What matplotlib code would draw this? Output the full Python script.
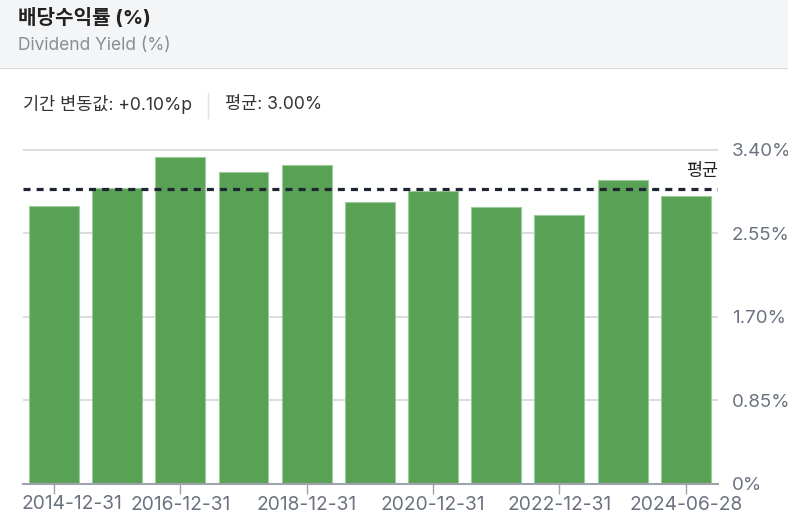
import matplotlib
matplotlib.use("Agg")
import matplotlib.pyplot as plt
from matplotlib.lines import Line2D

plt.rcParams['font.family'] = ['Inter', 'Noto Sans CJK KR', 'DejaVu Sans']

# data
dates = ["2014-12-31", "2015-12-31", "2016-12-31", "2017-12-31", "2018-12-31",
         "2019-12-31", "2020-12-31", "2021-12-31", "2022-12-31", "2023-12-31",
         "2024-06-28"]
yields = [2.83, 3.01, 3.33, 3.18, 3.25, 2.87, 2.98, 2.82, 2.74, 3.09, 2.93]
avg_yield = 3.00
yticks = [0, 0.85, 1.70, 2.55, 3.40]
ytick_labels = ["0%", "0.85%", "1.70%", "2.55%", "3.40%"]
title = "배당수익률 (%)"
subtitle = "Dividend Yield (%)"
change_text = "기간 변동값: +0.10%p"
avg_text = "평균: 3.00%"

W, H = 788, 522
fig = plt.figure(figsize=(W/100, H/100), dpi=100)
fig.patch.set_facecolor("white")

def px(x, y):
    return x/W, 1 - y/H

# header band
fig.patches.append(plt.Rectangle((0, 1 - 67/H), 1, 67/H, transform=fig.transFigure,
                                 facecolor="#f4f5f7", edgecolor="none", zorder=0))
fig.lines.append(Line2D([0, 1], [1 - 67.5/H]*2, transform=fig.transFigure,
                        color="#dcdde1", lw=1))
fig.text(*px(18, 18), title, fontsize=14.5, fontweight="bold", color="#222222", va="center")
fig.text(*px(18, 46), subtitle, fontsize=12.5, color="#8a8d93", va="center")

# stats line
fig.text(*px(23, 105), change_text, fontsize=12.6, color="#333333", va="center")
fig.lines.append(Line2D([208/W]*2, [1 - 93/H, 1 - 118/H], transform=fig.transFigure,
                        color="#e0e0e0", lw=1))
fig.text(*px(225, 105), avg_text, fontsize=12.6, color="#333333", va="center")

# axes
ax_top = 145
ax_bot = 484
ax = fig.add_axes([23/W, 1 - ax_bot/H, (718-23)/W, (ax_bot-ax_top)/H])
ax.set_facecolor("none")
x = list(range(len(dates)))
ax.bar(x, yields, width=0.79, color="#58a155", edgecolor="#9fcb9c", linewidth=0.8, zorder=2)
ax.set_xlim(-0.49, 10.51)
ax.set_ylim(0, 3.45)

for yv in yticks[1:]:
    ax.axhline(yv, color="#d6d6d6", lw=1.2, zorder=1)
ax.axhline(avg_yield, color="#1f2633", lw=2.3, ls=(0, (2.2, 1.9)), zorder=3)
ax.text(10.51, avg_yield + 0.09, "평균", ha="right", va="bottom", fontsize=12.5,
        color="#222222", fontweight="medium")

for sp in ["top", "right", "left"]:
    ax.spines[sp].set_visible(False)
ax.spines["bottom"].set_color("#9ea3ae")
ax.spines["bottom"].set_linewidth(1.5)

ax.yaxis.tick_right()
ax.set_yticks(yticks)
ax.set_yticklabels(ytick_labels)
ax.tick_params(axis="y", length=0, pad=10, labelsize=13.5, labelcolor="#6b7280")

tick_pos = x[::2]
ax.set_xticks(tick_pos)
ax.set_xticklabels([""] + [dates[i] for i in tick_pos[1:]])
ax.tick_params(axis="x", length=7, width=1, color="#9ea3ae", pad=2,
               labelsize=13.8, labelcolor="#6b7280")
# first label gets pushed right so it fits
ax.text(-0.52, -0.033, dates[0], transform=ax.get_xaxis_transform(), ha="left", va="top",
        fontsize=13.8, color="#6b7280")

fig.savefig("out.png", dpi=100)
